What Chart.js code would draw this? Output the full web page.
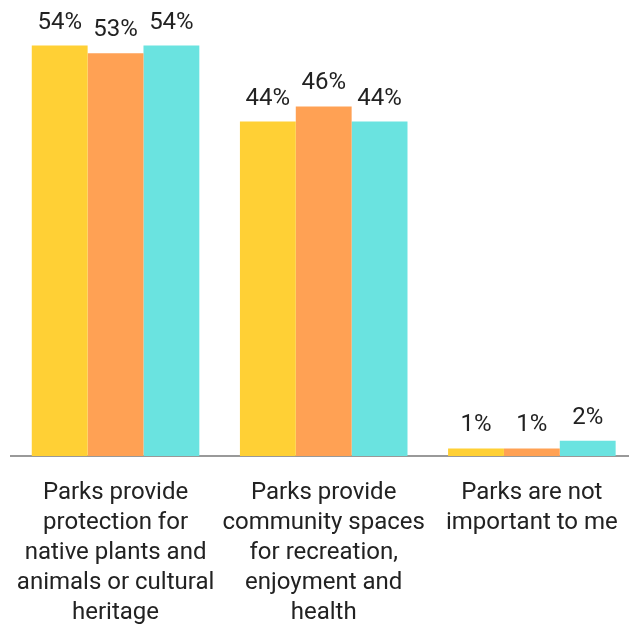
<!DOCTYPE html>
<html>
<head>
<meta charset="utf-8">
<script src="https://cdn.jsdelivr.net/npm/chart.js@4/dist/chart.umd.min.js"></script>
<style>
  html, body { margin: 0; padding: 0; background: #fff; overflow: hidden; width: 629px; height: 625px; }
  /* canvas is a bit bigger than the window; Chart.js adds label padding we clip away */
  #wrap { width: 642px; height: 650px; position: relative; margin-left: -5px; }
</style>
</head>
<body>
<div id="wrap"><canvas id="chart"></canvas></div>
<script>
// categories + series
const categories = [
    ['Parks provide', 'protection for', 'native plants and', 'animals or cultural', 'heritage'],
    ['Parks provide', 'community spaces', 'for recreation,', 'enjoyment and', 'health'],
    ['Parks are not', 'important to me']
];
const seriesA = [54, 44, 1];
const seriesB = [53, 46, 1];
const seriesC = [54, 44, 2];
const colors = ['#FFD035', '#FFA154', '#6AE3E0'];

// draws "54%" etc above each bar
const valueLabels = {
    id: 'valueLabels',
    afterDatasetsDraw(chart) {
        const ctx = chart.ctx;
        ctx.save();
        ctx.font = '24px Roboto';
        ctx.fillStyle = '#222';
        ctx.textAlign = 'center';
        ctx.textBaseline = 'alphabetic';
        chart.data.datasets.forEach((ds, i) => {
            chart.getDatasetMeta(i).data.forEach((bar, j) => {
                ctx.fillText(ds.data[j] + '%', bar.x, bar.y - 17);
            });
        });
        ctx.restore();
    }
};

new Chart(document.getElementById('chart'), {
    type: 'bar',
    data: {
        labels: categories,
        datasets: [
            { label: 'A', data: seriesA, backgroundColor: colors[0] },
            { label: 'B', data: seriesB, backgroundColor: colors[1] },
            { label: 'C', data: seriesC, backgroundColor: colors[2] }
        ]
    },
    options: {
        responsive: true,
        maintainAspectRatio: false,
        animation: false,
        datasets: { bar: { categoryPercentage: 0.805, barPercentage: 1 } },
        layout: { padding: 0 },
        plugins: { legend: { display: false }, tooltip: { enabled: false } },
        scales: {
            y: { display: false, min: 0, max: 60 },
            x: {
                grid: { display: false, drawTicks: false },
                border: { display: true, color: '#999', width: 2 },
                ticks: { padding: 22, color: '#222', maxRotation: 0, autoSkip: false,
                         font: { family: 'Roboto', size: 24, lineHeight: 1.25 } }
            }
        }
    },
    plugins: [valueLabels]
});
</script>
</body>
</html>
